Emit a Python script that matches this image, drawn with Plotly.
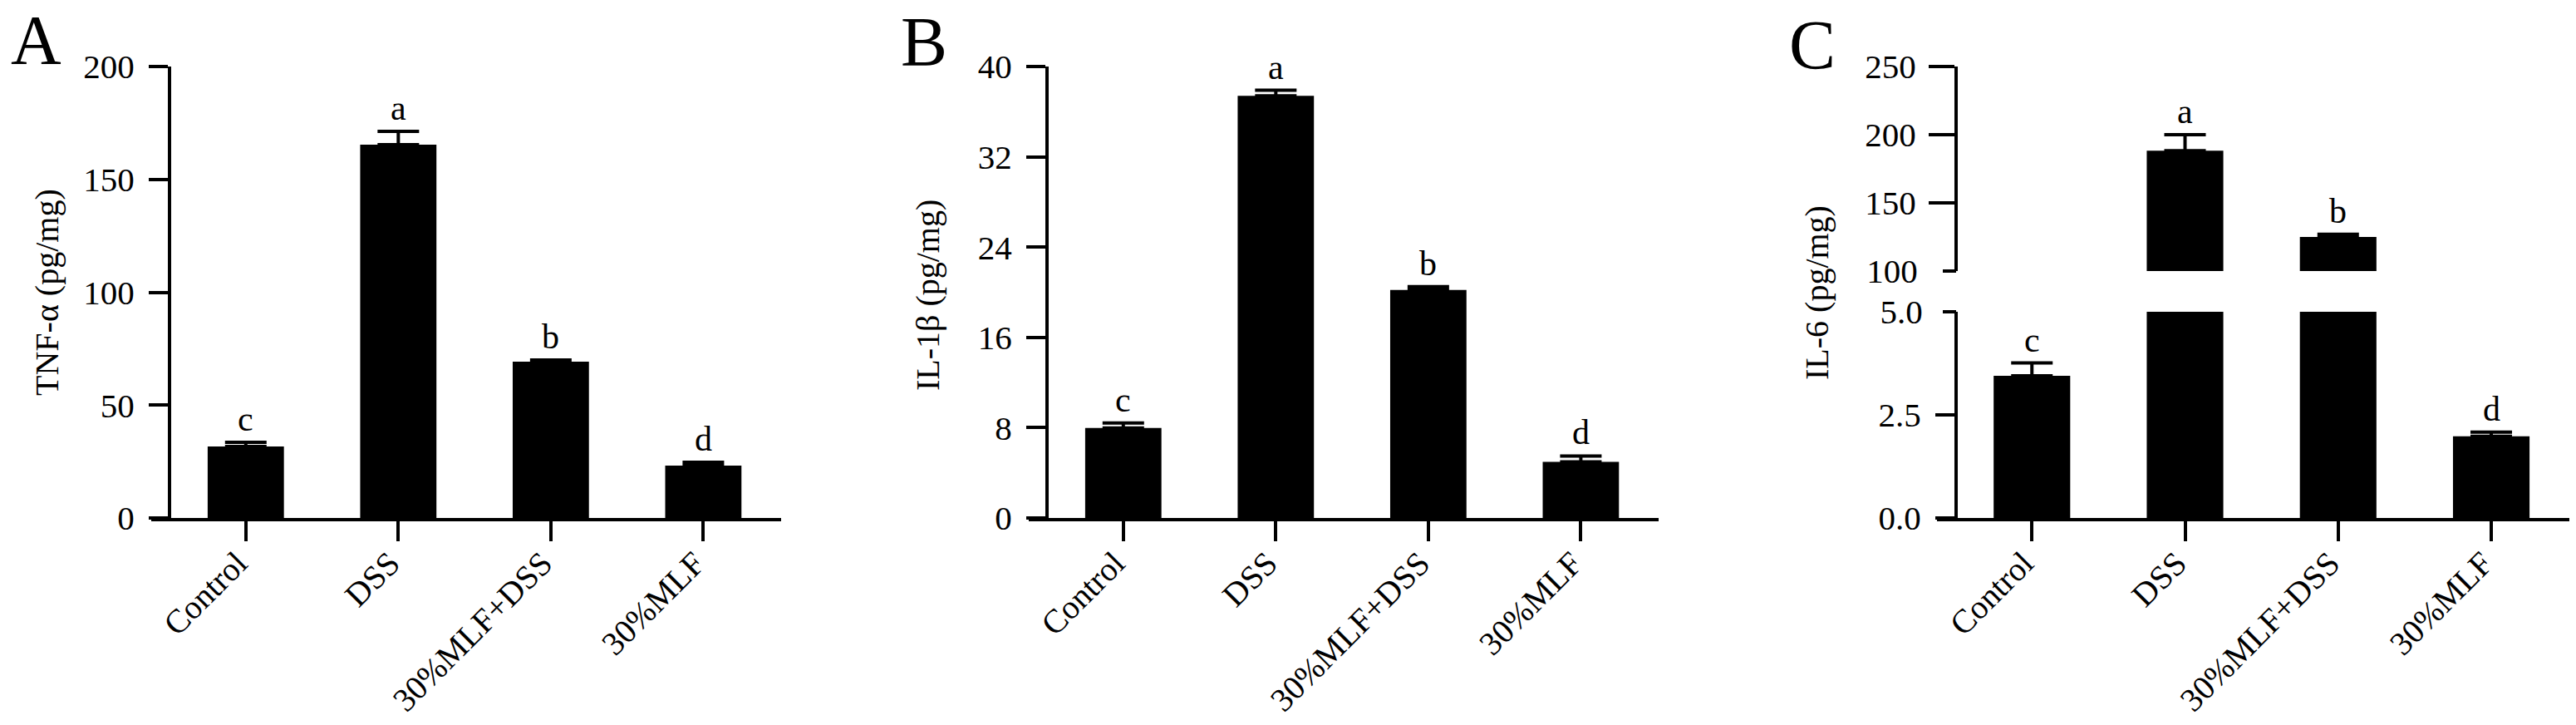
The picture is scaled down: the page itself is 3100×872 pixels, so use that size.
import plotly.graph_objects as go

categories = ["Control", "DSS", "30%MLF+DSS", "30%MLF"]
letters = ["c", "a", "b", "d"]

tnf_mean = [31.7, 165.4, 69.2, 23.2]
tnf_err = [1.8, 5.9, 0.8, 1.5]

il1b_mean = [7.97, 37.4, 20.2, 4.98]
il1b_err = [0.45, 0.5, 0.3, 0.51]

il6_mean = [3.45, 188.2, 125.0, 1.98]
il6_err = [0.31, 11.8, 2.0, 0.10]

W, H = 3100, 872
FONT = "Liberation Serif, Times New Roman, serif"
LW = 4
STANDOFF = 9


def px(v):
    return v / W


def py(v):
    return 1 - v / H


fig = go.Figure()


def add_bars(mean, err, xa, ya, visible_mask=None):
    fig.add_trace(go.Bar(
        x=categories, y=mean, xaxis=xa, yaxis=ya, width=0.5,
        marker=dict(color="black", line=dict(width=0)),
        error_y=dict(type="data", symmetric=False, array=err,
                     arrayminus=[0] * len(err), color="black",
                     thickness=LW, width=25),
        showlegend=False, cliponaxis=True, hoverinfo="x+y",
    ))
    for i, (c, m, e, l) in enumerate(zip(categories, mean, err, letters)):
        if visible_mask is not None and not visible_mask[i]:
            continue
        fig.add_annotation(x=c, y=m + e, xref=xa, yref=ya, text=l,
                           showarrow=False, yanchor="bottom", yshift=3,
                           font=dict(family=FONT, size=42, color="black"))


add_bars(tnf_mean, tnf_err, "x", "y")
add_bars(il1b_mean, il1b_err, "x2", "y2")
lower_mask = [m < 5 for m in il6_mean]
upper_mask = [m >= 100 for m in il6_mean]
add_bars(il6_mean, il6_err, "x3", "y3", visible_mask=lower_mask)
add_bars(il6_mean, il6_err, "x3", "y4", visible_mask=upper_mask)

# invisible carrier traces so the break-tick overlay axes are drawn
for ya in ["y5", "y6", "y7", "y8"]:
    fig.add_trace(go.Scatter(x=categories, y=il6_mean, xaxis="x3", yaxis=ya,
                             mode="markers", marker=dict(opacity=0),
                             showlegend=False, hoverinfo="skip"))

tickfont = dict(family=FONT, size=41, color="black")
xtickfont = dict(family=FONT, size=40, color="black")

xcommon = dict(range=[-0.62, 3.51], showline=True, linewidth=LW, linecolor="black",
               ticks="outside", ticklen=24, tickwidth=LW, tickcolor="black",
               tickangle=-45, tickfont=xtickfont, showgrid=False, zeroline=False,
               type="category", fixedrange=True, automargin=False,
               ticklabelshift=-10, ticklabelstandoff=-13)
ycommon = dict(showline=True, linewidth=LW, linecolor="black", ticks="outside",
               tickwidth=LW, tickcolor="black", tickfont=tickfont,
               showgrid=False, zeroline=False, anchor="free", fixedrange=True,
               automargin=False)

yb, yt = py(623), py(80)
ylow_top = py(375)
yup_bot = py(326)

fig.update_layout(
    template="none",
    width=W, height=H, margin=dict(l=0, r=0, t=0, b=0, pad=0), autosize=False,
    plot_bgcolor="white", paper_bgcolor="white",
    font=dict(family=FONT, color="black"),
    xaxis=dict(domain=[px(182), px(940)], anchor="y", **xcommon),
    yaxis=dict(domain=[yb, yt], position=px(204), range=[0, 200],
               tickvals=[0, 50, 100, 150, 200], ticklen=23,
               ticklabelstandoff=STANDOFF, **ycommon),
    xaxis2=dict(domain=[px(1238), px(1996)], anchor="y2", **xcommon),
    yaxis2=dict(domain=[yb, yt], position=px(1260), range=[0, 40],
                tickvals=[0, 8, 16, 24, 32, 40], ticklen=23,
                ticklabelstandoff=STANDOFF, **ycommon),
    xaxis3=dict(domain=[px(2331), px(3092)], anchor="y3", **xcommon),
    yaxis3=dict(domain=[yb, ylow_top], position=px(2354), range=[0, 5],
                tickvals=[0, 2.5], ticktext=["0.0", "2.5"], ticklen=23,
                ticklabelstandoff=STANDOFF, **ycommon),
    yaxis4=dict(domain=[yup_bot, yt], position=px(2354), range=[100, 250],
                tickvals=[150, 200, 250], ticklen=31,
                ticklabelstandoff=STANDOFF - 2, **ycommon),
)

# break ticks (outer part with label, inner part without)
brk = dict(showgrid=False, zeroline=False, anchor="free", fixedrange=True,
           tickwidth=LW, tickcolor="black", tickfont=tickfont, showline=False,
           automargin=False)
fig.update_layout(
    yaxis5=dict(overlaying="y3", domain=[yb, ylow_top], position=px(2354),
                range=[0, 5], tickvals=[5], ticktext=["5.0"], ticks="outside",
                ticklen=16, ticklabelstandoff=STANDOFF + 7, **brk),
    yaxis6=dict(overlaying="y3", domain=[yb, ylow_top], position=px(2354),
                range=[0, 5], tickvals=[5], ticks="inside", ticklen=17,
                showticklabels=False, **brk),
    yaxis7=dict(overlaying="y4", domain=[yup_bot, yt], position=px(2354),
                range=[100, 250], tickvals=[100], ticktext=["100"], ticks="outside",
                ticklen=16, ticklabelstandoff=STANDOFF + 13, **brk),
    yaxis8=dict(overlaying="y4", domain=[yup_bot, yt], position=px(2354),
                range=[100, 250], tickvals=[100], ticks="inside", ticklen=17,
                showticklabels=False, **brk),
)

# y-axis titles and panel letters
titles = [("TNF-α (pg/mg)", 56, 352), ("IL-1β (pg/mg)", 1117, 355), ("IL-6 (pg/mg)", 2186, 352)]
for t, x, y in titles:
    fig.add_annotation(x=px(x), y=py(y), xref="paper", yref="paper", text=t,
                       textangle=-90, showarrow=False, xanchor="center", yanchor="middle",
                       font=dict(family=FONT, size=40, color="black"))

panels = [("A", 43, 48), ("B", 1112, 50), ("C", 2181, 54)]
for t, x, y in panels:
    fig.add_annotation(x=px(x), y=py(y), xref="paper", yref="paper", text=t,
                       showarrow=False, xanchor="center", yanchor="middle",
                       font=dict(family=FONT, size=84, color="black"))

fig.write_html("out.html", config={"displayModeBar": False},
               post_script="document.body.style.margin='0';document.body.style.overflow='hidden';")
